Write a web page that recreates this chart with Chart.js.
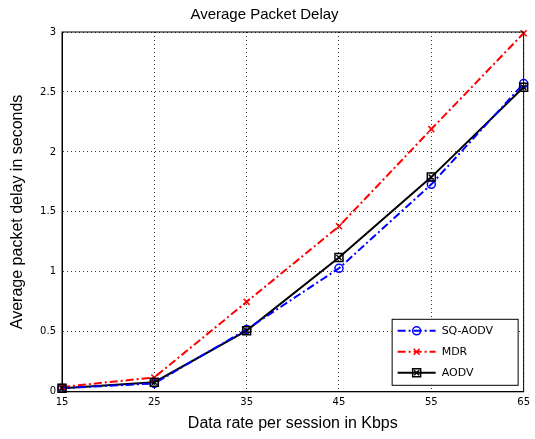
<!DOCTYPE html>
<html>
<head>
<meta charset="utf-8">
<script src="https://cdn.jsdelivr.net/npm/chart.js@4.4.0/dist/chart.umd.min.js"></script>
<style>
  html, body { margin: 0; padding: 0; background: #fff; }
  #wrap { width: 535px; height: 439px; }
</style>
</head>
<body>
<div id="wrap"><canvas id="c" width="535" height="439"></canvas></div>
<script>
const rates = [15, 25, 35, 45, 55, 65];
const sqAodv = [0.03, 0.07, 0.52, 1.03, 1.73, 2.57];
const mdr = [0.04, 0.12, 0.75, 1.38, 2.19, 2.99];
const aodv = [0.03, 0.08, 0.51, 1.12, 1.79, 2.54];
const yTicks = [0, 0.5, 1, 1.5, 2, 2.5, 3];

const toXY = arr => arr.map((v, i) => ({ x: rates[i], y: v }));

function drawMarker(ctx, label, x, y, color) {
  ctx.lineWidth = 1.5;
  ctx.strokeStyle = color;
  ctx.beginPath();
  if (label === 'SQ-AODV') {
    ctx.arc(x, y, 4, 0, Math.PI * 2);
  } else if (label === 'MDR') {
    ctx.moveTo(x - 3, y - 3); ctx.lineTo(x + 3, y + 3);
    ctx.moveTo(x + 3, y - 3); ctx.lineTo(x - 3, y + 3);
  } else {
    ctx.rect(x - 4, y - 4, 8, 8);
    ctx.moveTo(x - 2.5, y - 2.5); ctx.lineTo(x + 2.5, y + 2.5);
    ctx.moveTo(x + 2.5, y - 2.5); ctx.lineTo(x - 2.5, y + 2.5);
  }
  ctx.stroke();
}

// legend drawn inside the plot, bottom right
const boxLegend = {
  id: 'boxLegend',
  afterDraw(chart) {
    const ctx = chart.ctx;
    const a = chart.chartArea;
    const w = 126, h = 66;
    const x0 = a.right - w - 6, y0 = a.bottom - h - 7;
    ctx.save();
    ctx.fillStyle = '#fff';
    ctx.fillRect(x0, y0, w, h);
    ctx.strokeStyle = '#000';
    ctx.lineWidth = 1;
    ctx.setLineDash([]);
    ctx.strokeRect(x0 + 0.5, y0 + 0.5, w, h);
    ctx.font = '11px "DejaVu Sans", sans-serif';
    ctx.textBaseline = 'middle';
    chart.data.datasets.forEach((ds, i) => {
      const y = y0 + 12 + i * 21;
      ctx.strokeStyle = ds.borderColor;
      ctx.lineWidth = ds.borderWidth;
      ctx.setLineDash(ds.borderDash || []);
      ctx.beginPath();
      ctx.moveTo(x0 + 6, y);
      ctx.lineTo(x0 + 44, y);
      ctx.stroke();
      ctx.setLineDash([]);
      drawMarker(ctx, ds.label, x0 + 25, y, ds.borderColor);
      ctx.fillStyle = '#000';
      ctx.fillText(ds.label, x0 + 50, y);
    });
    ctx.restore();
  }
};

const pointMarkers = {
  id: 'pointMarkers',
  afterDatasetsDraw(chart) {
    const ctx = chart.ctx;
    ctx.save();
    ctx.setLineDash([]);
    chart.data.datasets.forEach((ds, i) => {
      chart.getDatasetMeta(i).data.forEach(p => drawMarker(ctx, ds.label, p.x, p.y, ds.borderColor));
    });
    ctx.restore();
  }
};

const tickFont = { family: 'DejaVu Sans, sans-serif', size: 10 };

new Chart(document.getElementById('c'), {
  type: 'line',
  data: {
    datasets: [
      { label: 'SQ-AODV', data: toXY(sqAodv), borderColor: '#0000ff', borderWidth: 2, borderDash: [8, 3, 2, 3], pointRadius: 0 },
      { label: 'MDR', data: toXY(mdr), borderColor: '#ff0000', borderWidth: 2, borderDash: [8, 3, 2, 3], pointRadius: 0 },
      { label: 'AODV', data: toXY(aodv), borderColor: '#000000', borderWidth: 2, pointRadius: 0 }
    ]
  },
  options: {
    responsive: false,
    animation: false,
    layout: { padding: { left: 4, right: 10, top: 2, bottom: 2 } },
    plugins: {
      legend: { display: false },
      tooltip: { enabled: false },
      title: {
        display: true, text: 'Average Packet Delay', color: '#000',
        font: { family: 'Liberation Sans, Arial, sans-serif', size: 15, weight: 'normal' },
        padding: { top: 4, bottom: 8 }
      }
    },
    scales: {
      x: {
        type: 'linear', min: 15, max: 65,
        afterBuildTicks: s => { s.ticks = rates.map(v => ({ value: v })); },
        grid: { color: '#000', lineWidth: 0.8, drawTicks: false },
        border: { display: true, color: '#000', width: 1, dash: [1, 3] },
        ticks: { color: '#000', font: tickFont, padding: 5 },
        title: { display: true, text: 'Data rate per session in Kbps', color: '#000', font: { family: 'Liberation Sans, Arial, sans-serif', size: 16 }, padding: { top: 0 } }
      },
      y: {
        min: 0, max: 3,
        afterBuildTicks: s => { s.ticks = yTicks.map(v => ({ value: v })); },
        grid: { color: '#000', lineWidth: 0.8, drawTicks: false },
        border: { display: true, color: '#000', width: 1, dash: [1, 3] },
        ticks: { color: '#000', font: tickFont, padding: 6, callback: v => String(v) },
        title: { display: true, text: 'Average packet delay in seconds', color: '#000', font: { family: 'Liberation Sans, Arial, sans-serif', size: 16 }, padding: { bottom: 2 } },
        afterFit: s => { s.width = 58; }
      }
    }
  },
  plugins: [pointMarkers, boxLegend, {
    id: 'frame',
    afterDraw(chart) {
      const a = chart.chartArea, ctx = chart.ctx;
      ctx.save(); ctx.strokeStyle = '#000'; ctx.lineWidth = 1; ctx.setLineDash([]);
      ctx.strokeRect(a.left, a.top, a.right - a.left, a.bottom - a.top);
      ctx.restore();
    }
  }]
});
</script>
</body>
</html>
